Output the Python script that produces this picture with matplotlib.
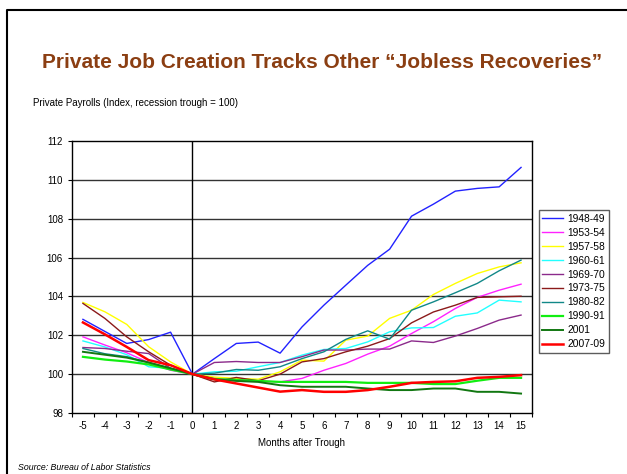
import numpy as np
import matplotlib
matplotlib.use('Agg')
import matplotlib.pyplot as plt
from matplotlib.lines import Line2D

plt.rcParams['font.family'] = ['Liberation Sans', 'DejaVu Sans']

months = list(range(-5, 16))

s1948 = [102.82, 102.2, 101.58, 101.78, 102.16, 100.0, 100.8, 101.58, 101.65, 101.08, 102.43,
         103.55, 104.58, 105.6, 106.43, 108.13, 108.75, 109.42, 109.56, 109.64, 110.64]
s1953 = [101.92, 101.5, 101.1, 100.6, 100.2, 100.0, 99.8, 99.75, 99.65, 99.6, 99.78,
         100.2, 100.55, 101.03, 101.44, 102.09, 102.7, 103.38, 103.95, 104.32, 104.63]
s1957 = [103.69, 103.21, 102.56, 101.41, 100.63, 100.0, 99.85, 99.78, 99.74, 100.12, 100.72,
         100.67, 101.75, 101.96, 102.87, 103.29, 104.1, 104.67, 105.18, 105.52, 105.73]
s1960 = [101.71, 101.4, 101.0, 100.38, 100.3, 100.0, 100.12, 100.15, 100.38, 100.6, 100.98,
         101.27, 101.32, 101.66, 102.18, 102.38, 102.4, 102.98, 103.15, 103.81, 103.72]
s1969 = [101.37, 101.32, 101.18, 101.06, 100.3, 100.0, 100.6, 100.65, 100.6, 100.6, 100.9,
         101.24, 101.24, 101.29, 101.29, 101.71, 101.63, 101.96, 102.35, 102.78, 103.04]
s1973 = [103.64, 102.87, 101.92, 101.15, 100.46, 100.0, 99.6, 99.83, 99.66, 100.0, 100.63,
         100.8, 101.15, 101.44, 101.83, 102.64, 103.2, 103.55, 103.95, 103.98, 104.01]
s1980 = [101.32, 101.05, 100.9, 100.6, 100.3, 100.0, 100.05, 100.24, 100.2, 100.38, 100.8,
         101.15, 101.79, 102.23, 101.8, 103.29, 103.72, 104.19, 104.67, 105.32, 105.87]
s1990 = [100.89, 100.75, 100.65, 100.5, 100.24, 100.0, 99.75, 99.7, 99.65, 99.6, 99.6,
         99.6, 99.6, 99.55, 99.55, 99.55, 99.49, 99.49, 99.66, 99.81, 99.81]
s2001 = [101.15, 101.0, 100.85, 100.6, 100.3, 100.0, 99.73, 99.65, 99.6, 99.43, 99.35,
         99.35, 99.35, 99.26, 99.18, 99.18, 99.26, 99.26, 99.09, 99.09, 99.0]
s2007 = [102.66, 102.05, 101.4, 100.72, 100.46, 100.0, 99.73, 99.52, 99.31, 99.1, 99.18,
         99.09, 99.09, 99.18, 99.35, 99.55, 99.6, 99.63, 99.81, 99.86, 99.95]

labels = ['1948-49', '1953-54', '1957-58', '1960-61', '1969-70',
          '1973-75', '1980-82', '1990-91', '2001', '2007-09']
series = [s1948, s1953, s1957, s1960, s1969, s1973, s1980, s1990, s2001, s2007]
colors = ['#2222FF', '#FF22FF', '#FFFF00', '#22FFFF', '#8B2A8B',
          '#8B1A1A', '#118888', '#11EE11', '#117711', '#FF0000']
widths = [1.0, 1.0, 1.0, 1.0, 1.0, 1.0, 1.0, 1.6, 1.4, 1.8]

fig = plt.figure(figsize=(6.27, 4.74), dpi=100)
ax = fig.add_axes([72 / 627, 1 - 413 / 474, 460 / 627, 272 / 474])

x = np.arange(len(months))
for s, lab, c, w in zip(series, labels, colors, widths):
    ax.plot(x, s, color=c, lw=w, label=lab)

ax.set_xlim(-0.5, len(months) - 0.5)
ax.set_ylim(98, 112)
ax.set_yticks(range(98, 113, 2))
for yv in range(100, 112, 2):
    ax.axhline(yv, color='#333333', lw=1.0, zorder=0)
ax.axvline(months.index(0), color='black', lw=1.0, zorder=0)

ax.set_xticks(x)
ax.set_xticklabels([str(m) for m in months])
ax.set_xticks(np.arange(-0.5, len(months), 1.0), minor=True)
ax.tick_params(axis='x', which='major', length=0, labelsize=7, pad=6)
ax.tick_params(axis='x', which='minor', length=3, direction='out', width=0.8)
ax.tick_params(axis='y', length=3, direction='out', labelsize=7, width=0.8)
for sp in ax.spines.values():
    sp.set_linewidth(1.0)
    sp.set_color('black')

ax.set_xlabel('Months after Trough', fontsize=7, labelpad=5)

leg = ax.legend(loc='upper left', bbox_to_anchor=(1.015, 0.745), fontsize=7.4,
                frameon=True, fancybox=False, handlelength=2.0, handletextpad=0.4,
                labelspacing=0.38, borderpad=0.35, borderaxespad=0)
leg.get_frame().set_edgecolor('#333333')
leg.get_frame().set_linewidth(1.0)

fig.text(0.513, 1 - 62 / 474, 'Private Job Creation Tracks Other \u201cJobless Recoveries\u201d',
         ha='center', va='center', fontsize=15, fontweight='bold', color='#8B3E12')
fig.text(33 / 627, 1 - 103 / 474, 'Private Payrolls (Index, recession trough = 100)',
         ha='left', va='center', fontsize=7.0)
fig.text(18 / 627, 1 - 467 / 474, 'Source: Bureau of Labor Statistics',
         ha='left', va='center', fontsize=6.3, style='italic')

# outer frame (left and top edges)
fig.add_artist(Line2D([7 / 627, 7 / 627, 1.0], [0.0, 1 - 10 / 474, 1 - 10 / 474],
                      transform=fig.transFigure, color='black', lw=1.5))

fig.savefig('out.png', dpi=100)
